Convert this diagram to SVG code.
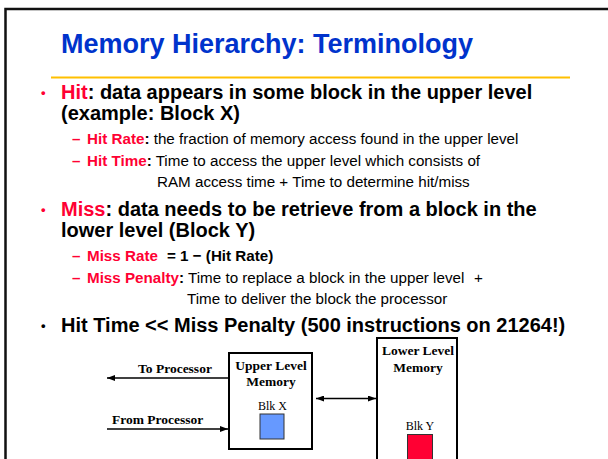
<svg xmlns="http://www.w3.org/2000/svg" width="608" height="459" viewBox="0 0 608 459">
  <defs>
    <style>
      .title { font-family: "Liberation Sans", Arial, sans-serif; font-weight: bold; font-size: 27px; fill: #0033cc; }
      .l1 { font-family: "Liberation Sans", Arial, sans-serif; font-weight: bold; font-size: 20px; fill: #000; }
      .l2 { font-family: "Liberation Sans", Arial, sans-serif; font-size: 15.2px; fill: #000; }
      .dot { font-family: "Liberation Sans", Arial, sans-serif; font-weight: bold; font-size: 13px; }
      .b { font-weight: bold; }
      .red { fill: #ff0033; }
      .lbl { font-family: "Liberation Serif", "Times New Roman", serif; font-weight: bold; font-size: 13.5px; fill: #000; }
      .blk { font-family: "Liberation Serif", "Times New Roman", serif; font-size: 12px; fill: #000; }
      .box { fill: #fff; stroke: #000; stroke-width: 2; }
      .wire { stroke: #000; stroke-width: 1.5; fill: none; }
    </style>
    <marker id="head" viewBox="0 0 8 6" refX="8" refY="3" markerWidth="8" markerHeight="6" markerUnits="userSpaceOnUse" orient="auto-start-reverse">
      <path d="M0,0 L8,3 L0,6 Z" fill="#000"/>
    </marker>
  </defs>

  <rect width="608" height="459" fill="#fff"/>
  <!-- slide frame (runs off the right and bottom edges) -->
  <rect x="5.5" y="9" width="640" height="480" fill="none" stroke="#111" stroke-width="2.5"/>

  <!-- heading -->
  <text class="title" x="61" y="53">Memory Hierarchy: Terminology</text>
  <line x1="51" y1="77.5" x2="570" y2="77.5" stroke="#ffc000" stroke-width="2"/>

  <!-- bullet list -->
  <text class="dot red" x="41" y="97">•</text>
  <text class="l1" x="61" y="99"><tspan class="red">Hit</tspan>: data appears in some block in the upper level</text>
  <text class="l1" x="61" y="120">(example: Block X)</text>

  <text class="l2 red b" x="72" y="144">–</text>
  <text class="l2" x="87" y="144"><tspan class="b red">Hit Rate</tspan><tspan class="b">:</tspan> the fraction of memory access found in the upper level</text>
  <text class="l2 red b" x="72" y="166">–</text>
  <text class="l2" x="87" y="166"><tspan class="b red">Hit Time</tspan><tspan class="b">:</tspan> Time to access the upper level which consists of</text>
  <text class="l2" x="157" y="187">RAM access time + Time to determine hit/miss</text>

  <text class="dot red" x="41" y="214">•</text>
  <text class="l1" x="61" y="216"><tspan class="red">Miss</tspan>: data needs to be retrieve from a block in the</text>
  <text class="l1" x="61" y="237">lower level (Block Y)</text>

  <text class="l2 red b" x="72" y="261">–</text>
  <text class="l2 b red" x="87" y="261">Miss Rate</text>
  <text class="l2 b" x="167" y="261">= 1 − (Hit Rate)</text>
  <text class="l2 red b" x="72" y="283">–</text>
  <text class="l2" x="87" y="283"><tspan class="b red">Miss Penalty</tspan><tspan class="b">:</tspan> Time to replace a block in the upper level</text>
  <text class="l2" x="474" y="283">+</text>
  <text class="l2" x="187" y="304">Time to deliver the block the processor</text>

  <text class="dot" x="41" y="330">•</text>
  <text class="l1" x="61" y="332">Hit Time &lt;&lt; Miss Penalty (500 instructions on 21264!)</text>

  <!-- connectors -->
  <g id="connectors">
    <line class="wire" x1="229" y1="378" x2="107" y2="378" marker-end="url(#head)"/>
    <line class="wire" x1="107" y1="429" x2="228" y2="429" marker-end="url(#head)"/>
    <line class="wire" x1="316" y1="398.5" x2="376" y2="398.5" marker-start="url(#head)" marker-end="url(#head)"/>
    <text class="lbl" x="138" y="373">To Processor</text>
    <text class="lbl" x="112" y="424">From Processor</text>
  </g>

  <!-- upper level memory -->
  <g id="upper-memory">
    <rect class="box" x="229" y="353" width="83" height="96"/>
    <text class="lbl" x="271" y="370" text-anchor="middle">Upper Level</text>
    <text class="lbl" x="271" y="386" text-anchor="middle">Memory</text>
    <text class="blk" x="272.5" y="410" text-anchor="middle">Blk X</text>
    <rect x="260" y="414" width="24" height="25" fill="#6699ff" stroke="#333" stroke-width="1"/>
  </g>

  <!-- lower level memory (runs past the bottom edge) -->
  <g id="lower-memory">
    <rect class="box" x="377" y="338" width="80" height="140"/>
    <text class="lbl" x="418" y="355" text-anchor="middle">Lower Level</text>
    <text class="lbl" x="418" y="372" text-anchor="middle">Memory</text>
    <text class="blk" x="420" y="430" text-anchor="middle">Blk Y</text>
    <rect x="407.5" y="434.5" width="25" height="30" fill="#ff0033" stroke="#333" stroke-width="1"/>
  </g>
</svg>
